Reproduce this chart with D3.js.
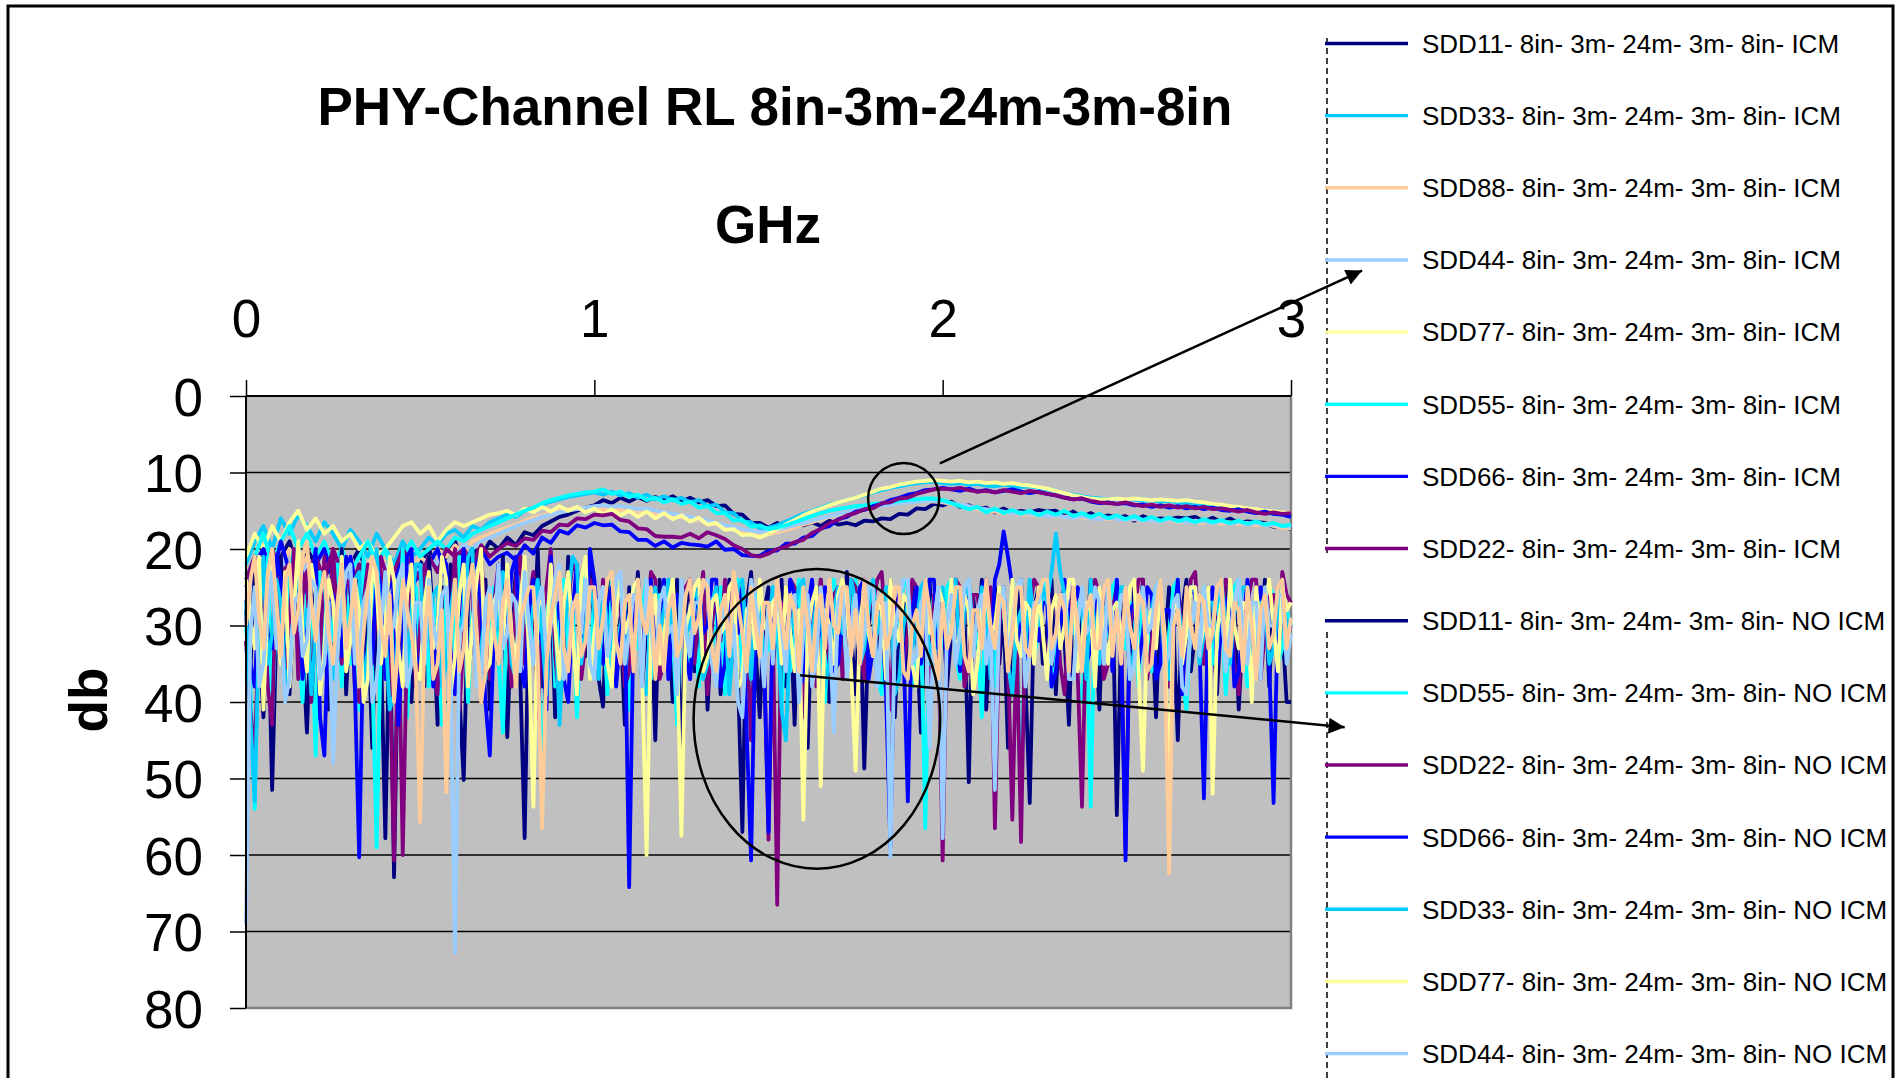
<!DOCTYPE html>
<html>
<head>
<meta charset="utf-8">
<script src="https://cdn.jsdelivr.net/npm/d3@7"></script>
<style>
  html, body { margin: 0; padding: 0; background: #ffffff; }
  svg { display: block; }
  text { font-family: "Liberation Sans", Arial, Helvetica, sans-serif; fill: #000; }
</style>
</head>
<body>
<svg id="chart" width="1899" height="1078"></svg>
<script>
// ---------------- DATA ----------------
const chartTitle = "PHY-Channel RL 8in-3m-24m-3m-8in";
const xAxisTitle = "GHz";
const yAxisTitle = "db";
const xTicks = [0, 1, 2, 3];
const yTicks = [0, 10, 20, 30, 40, 50, 60, 70, 80];
const freqMaxGHz = 3; // every series is sampled evenly from 0 to 3 GHz

const seriesNames = [
  "SDD11- 8in- 3m- 24m- 3m- 8in- ICM",
  "SDD33- 8in- 3m- 24m- 3m- 8in- ICM",
  "SDD88- 8in- 3m- 24m- 3m- 8in- ICM",
  "SDD44- 8in- 3m- 24m- 3m- 8in- ICM",
  "SDD77- 8in- 3m- 24m- 3m- 8in- ICM",
  "SDD55- 8in- 3m- 24m- 3m- 8in- ICM",
  "SDD66- 8in- 3m- 24m- 3m- 8in- ICM",
  "SDD22- 8in- 3m- 24m- 3m- 8in- ICM",
  "SDD11- 8in- 3m- 24m- 3m- 8in- NO ICM",
  "SDD55- 8in- 3m- 24m- 3m- 8in- NO ICM",
  "SDD22- 8in- 3m- 24m- 3m- 8in- NO ICM",
  "SDD66- 8in- 3m- 24m- 3m- 8in- NO ICM",
  "SDD33- 8in- 3m- 24m- 3m- 8in- NO ICM",
  "SDD77- 8in- 3m- 24m- 3m- 8in- NO ICM",
  "SDD44- 8in- 3m- 24m- 3m- 8in- NO ICM",
  "SDD88- 8in- 3m- 24m- 3m- 8in- NO ICM"
];
const seriesColors = [
  "#000080", "#00CCFF", "#FFCC99", "#99CCFF", "#FFFF99", "#00FFFF", "#0000FF", "#800080",
  "#000080", "#00FFFF", "#800080", "#0000FF", "#00CCFF", "#FFFF99", "#99CCFF", "#FFCC99"
];

// ---- ICM series (dB), 121 samples ----
const sdd11Icm = [
  27, 23, 20, 25, 21, 19, 23, 20, 22, 24,
  21, 25, 22, 20, 24, 26, 22, 23, 21, 24,
  22, 20, 23, 21, 19, 22, 20, 21, 19, 20,
  18.5, 19.5, 17.8, 18.2, 17.0, 16.4, 15.8, 15.5, 15.0, 14.6,
  14.3, 13.6, 14.0, 13.3, 13.8, 13.2, 13.7, 13.2, 13.6, 13.1,
  13.8, 13.3, 13.9, 13.6, 14.4, 14.3, 15.4, 15.5, 16.6, 16.6,
  17.2, 16.6, 17.3, 16.7, 16.9, 16.5, 17.0, 16.3, 16.8, 16.6,
  16.9, 16.3, 16.4, 16.0, 16.1, 15.4, 15.5, 14.7, 14.8, 14.1,
  14.3, 13.8, 14.5, 14.3, 14.7, 14.6, 15.2, 14.7, 15.3, 15.0,
  15.2, 14.9, 15.1, 15.0, 15.7, 15.1, 15.8, 15.3, 15.9, 15.6,
  15.9, 15.7, 16.3, 15.7, 16.2, 16.0, 16.1, 15.9, 16.0, 15.8,
  16.4, 15.9, 16.5, 16.0, 16.6, 16.4, 16.5, 16.6, 17.1, 17.0,
  17.4
];
const sdd33Icm = [
  22, 19, 17, 20, 16, 18, 15.5, 17, 19, 16.5,
  18, 20, 17.5, 19, 21, 18, 20, 22, 19, 21,
  20, 18.5, 19.5, 18, 17.5, 18.5, 17, 17.5, 16.5, 16,
  15.5, 15.8, 15.0, 14.6, 14.2, 13.8, 13.5, 13.2, 13.0, 12.8,
  12.6, 12.9, 12.5, 13.0, 12.7, 13.3, 12.9, 13.5, 13.1, 13.6,
  13.3, 13.9, 13.6, 14.4, 14.2, 15.2, 15.3, 16.4, 16.5, 17.3,
  17.2, 16.9, 16.4, 15.9, 15.4, 15.0, 14.6, 14.2, 13.9, 13.6,
  13.3, 13.0, 12.6, 12.3, 12.0, 11.8, 11.6, 11.4, 11.3, 11.2,
  11.4, 11.5, 11.4, 11.6, 11.5, 11.7, 11.8, 11.6, 11.8, 11.9,
  11.8, 12.0, 12.2, 12.4, 12.7, 12.9, 13.1, 13.3, 13.4, 13.5,
  13.4, 13.6, 13.5, 13.7, 13.6, 13.8, 13.7, 13.9, 14.0, 14.1,
  14.2, 14.4, 14.5, 14.7, 14.8, 15.0, 15.1, 15.3, 15.4, 15.5,
  15.6
];
const sdd88Icm = [
  26, 23, 21, 24, 22, 20, 23, 21, 24, 22,
  20, 23, 21, 24, 22, 20, 22, 24, 21, 23,
  21, 22, 20, 21, 19.5, 20.5, 19, 18.5, 18, 17.6,
  17.2, 16.8, 16.3, 15.9, 15.6, 15.3, 15.0, 14.8, 14.7, 14.6,
  14.5, 14.9, 14.4, 15.0, 14.6, 15.1, 15.0, 15.5, 15.4, 15.9,
  15.8, 16.3, 16.2, 16.7, 16.7, 17.3, 17.3, 17.8, 17.8, 18.2,
  18.1, 17.8, 17.5, 17.2, 16.8, 16.5, 16.1, 15.8, 15.5, 15.2,
  15.0, 14.7, 14.5, 14.3, 14.1, 13.9, 13.8, 13.7, 13.7, 13.8,
  13.9, 14.1, 14.3, 14.6, 14.8, 15.0, 15.1, 15.3, 15.2, 15.4,
  15.5, 15.6, 15.4, 15.7, 15.8, 15.6, 15.9, 16.0, 15.8, 16.1,
  16.0, 16.2, 16.1, 16.3, 16.1, 16.4, 16.2, 16.5, 16.3, 16.4,
  16.6, 16.4, 16.7, 16.5, 16.8, 16.6, 16.9, 16.7, 17.0, 17.2,
  17.3
];
const sdd44Icm = [
  23, 26, 22, 25, 21, 24, 27, 22, 25, 23,
  26, 22, 24, 27, 23, 25, 22, 26, 24, 22,
  23, 21, 22, 20, 21, 19.5, 20, 19, 18.5, 18,
  17.5, 17.0, 16.6, 16.2, 15.8, 15.5, 15.2, 15.0, 14.8, 14.6,
  14.4, 14.3, 14.5, 14.4, 14.6, 14.8, 14.7, 15.0, 15.2, 15.4,
  15.6, 15.8, 16.1, 16.3, 16.6, 16.9, 17.1, 17.4, 17.6, 17.8,
  17.7, 17.5, 17.2, 16.9, 16.6, 16.3, 16.0, 15.7, 15.4, 15.2,
  14.9, 14.7, 14.5, 14.3, 14.2, 14.0, 13.9, 13.8, 13.7, 13.7,
  13.8, 14.0, 14.2, 14.4, 14.6, 14.8, 14.9, 15.1, 15.3, 15.2,
  15.4, 15.5, 15.7, 15.6, 15.8, 15.9, 15.7, 16.0, 16.1, 15.9,
  16.1, 16.2, 16.0, 16.3, 16.2, 16.4, 16.1, 16.3, 16.5, 16.3,
  16.4, 16.6, 16.4, 16.7, 16.5, 16.8, 16.6, 16.9, 16.8, 17.0,
  17.1
];
const sdd77Icm = [
  21, 18, 20, 17, 19, 16.5, 15, 17.5, 16, 18,
  17, 19, 18, 20, 19, 21, 20, 18.5, 17, 16.5,
  18, 17, 19, 17.5, 16.5, 17, 16.5, 16, 15.5, 15.3,
  15.0, 15.6, 14.7, 15.2, 14.5, 15.1, 14.4, 15.0, 14.5, 15.2,
  14.7, 15.5, 14.8, 15.6, 15.0, 15.8, 15.1, 16.0, 15.3, 16.1,
  15.6, 16.4, 15.9, 16.8, 16.6, 17.5, 17.4, 18.2, 18.1, 18.5,
  18.0, 17.4, 16.8, 16.2, 15.6, 15.1, 14.7, 14.3, 13.9, 13.6,
  13.3, 12.9, 12.5, 12.1, 11.9, 11.6, 11.4, 11.2, 11.1, 11.0,
  11.1, 11.2, 11.1, 11.3, 11.2, 11.4, 11.3, 11.5, 11.4, 11.6,
  11.7, 11.9, 12.1, 12.4, 12.7, 13.0, 13.2, 13.4, 13.5, 13.5,
  13.4, 13.5, 13.4, 13.5, 13.6, 13.5, 13.6, 13.7, 13.6, 13.8,
  13.9, 14.1, 14.2, 14.4, 14.5, 14.7, 14.8, 15.0, 15.1, 15.2,
  15.3
];
const sdd55Icm = [
  24, 21, 18, 22, 19, 17, 20, 18, 21, 19,
  22, 20, 23, 21, 19, 22, 20, 24, 21, 19,
  21, 20, 19, 20, 18.5, 19, 18, 17.5, 17, 16.5,
  16.0, 15.5, 15.0, 14.6, 14.0, 13.6, 13.3, 13.0, 12.8, 12.6,
  12.5, 12.2, 12.8, 12.5, 13.2, 12.9, 13.6, 13.3, 13.9, 13.5,
  14.1, 13.8, 14.6, 14.4, 15.3, 15.3, 16.3, 16.2, 17.1, 16.9,
  17.4, 17.2, 16.9, 16.5, 16.1, 15.7, 15.3, 15.0, 14.8, 14.6,
  14.4, 14.3, 14.1, 14.0, 13.9, 13.7, 13.6, 13.5, 13.4, 13.4,
  13.6, 14.0, 14.4, 14.8, 14.5, 15.2, 14.7, 15.3, 14.9, 15.4,
  15.0, 15.6, 15.1, 15.5, 15.0, 15.7, 15.3, 15.8, 15.4, 16.0,
  15.6, 16.1, 15.7, 16.2, 15.8, 16.3, 15.9, 16.4, 16.0, 16.5,
  16.1, 16.5, 16.2, 16.6, 16.3, 16.7, 16.4, 16.8, 16.6, 17.0,
  16.8
];
const sdd66Icm = [
  25, 22, 20, 24, 19, 23, 21, 26, 22, 20,
  24, 25, 21, 27, 23, 22, 26, 24, 21, 25,
  23, 22, 20, 24, 22, 21, 23, 20, 22, 21,
  20.5, 21.5, 19.5, 20.6, 18.5, 19.2, 17.6, 18.0, 16.9, 17.2,
  16.6, 16.9, 16.8, 17.7, 17.8, 18.8, 18.8, 19.6, 19.0, 19.8,
  19.2, 19.4, 19.5, 19.7, 19.0, 20.1, 20.0, 20.8, 20.9, 20.9,
  20.2, 20.2, 19.3, 19.3, 18.5, 18.3, 17.3, 17.0, 16.1, 15.8,
  15.1, 14.9, 14.4, 14.1, 13.6, 13.3, 12.9, 12.7, 12.3, 12.2,
  12.0, 12.2, 12.4, 12.1, 12.5, 12.3, 12.6, 12.4, 12.2, 12.5,
  12.7, 12.5, 12.8, 13.0, 13.3, 13.5, 13.4, 13.8, 14.0, 13.9,
  14.1, 14.0, 14.3, 14.2, 14.5, 14.3, 14.6, 14.4, 14.7, 14.5,
  14.8, 14.6, 14.9, 15.0, 14.8, 15.1, 15.3, 15.1, 15.4, 15.5,
  15.8
];
const sdd22Icm = [
  24, 21, 26, 20, 23, 22, 25, 23, 21, 24,
  20, 23, 26, 22, 24, 21, 25, 23, 20, 22,
  24, 21, 23, 20, 21, 20, 22, 19.5, 21, 20,
  19.2, 19.6, 18.6, 18.8, 17.6, 17.8, 16.8, 16.9, 16.0, 16.1,
  15.5, 15.6, 15.4, 16.2, 16.4, 17.3, 17.4, 18.3, 18.4, 18.4,
  18.5, 18.0, 18.6, 17.8, 18.2, 18.7, 19.5, 20.0, 20.8, 21.0,
  20.6, 20.0, 19.7, 19.1, 18.8, 17.9, 17.4, 16.6, 16.2, 15.6,
  15.3, 14.8, 14.7, 14.0, 13.9, 13.4, 13.3, 12.8, 12.5, 12.2,
  12.1, 12.2, 12.0, 12.3, 12.5, 12.4, 12.6, 12.3, 12.5, 12.7,
  12.4, 12.6, 12.8, 13.0, 13.3, 13.5, 13.4, 13.7, 13.9, 14.0,
  14.1, 13.9, 14.2, 14.4, 14.2, 14.5, 14.3, 14.6, 14.4, 14.7,
  14.5, 14.8, 14.7, 14.9, 15.1, 14.9, 15.2, 15.4, 15.2, 15.4,
  15.3
];

// ---- NO ICM series (dB), 241 samples ----
const sdd11NoIcm = [
  28, 36, 23, 31, 42, 26, 51.5, 30, 21, 35, 39, 27, 24, 33, 44, 28, 22, 37, 30, 41,
  25, 34, 20, 39, 27, 31, 23, 36, 29, 46, 26, 33, 57.8, 28, 62.9, 30, 22, 35, 40, 26,
  31, 38, 21, 29, 43, 25, 34, 22, 32, 39, 50.2, 27, 20, 36, 30, 24, 41, 28, 35, 21,
  44.6, 29, 23, 37, 57.8, 26, 33, 20, 38, 30, 24, 42, 28, 36, 21, 31, 39, 25, 34, 22,
  30, 37, 40.6, 26, 24, 35, 29, 43, 25, 32, 23, 38, 30, 27, 45, 24, 33, 28, 40, 24,
  49.8, 28, 24, 36, 31, 25, 41, 29, 26, 39, 34, 24, 30, 37, 57, 27, 23, 33, 42, 28,
  25, 35, 30, 24, 38, 28, 43, 25, 32, 46, 27, 36, 24, 30, 40, 28, 25, 34, 23, 31,
  39, 26, 48.7, 30, 25, 37, 28, 33, 24, 42, 30, 26, 36, 25, 31, 44, 28, 24, 35, 29,
  27, 38, 31, 24, 36, 28, 50.5, 26, 33, 24, 41, 30, 25, 35, 28, 46, 26, 32, 24, 37,
  53.2, 28, 25, 35, 30, 24, 39, 27, 32, 43, 25, 36, 28, 33, 24, 30, 41, 26, 35, 25,
  54.8, 30, 26, 37, 25, 32, 24, 35, 28, 42, 26, 33, 25, 30, 45, 28, 24, 36, 31, 26,
  35, 25, 30, 39, 28, 24, 33, 27, 41, 30, 25, 37, 28, 32, 24, 38, 26, 35, 30, 40,
  40
];
const sdd55NoIcm = [
  30, 38, 54, 25, 34, 21, 42, 27, 31, 37, 24, 20, 33, 40, 26, 30, 47, 23, 35, 27,
  32, 22, 38, 25, 35, 29, 41, 21, 28, 36, 59, 31, 24, 37, 27, 33, 20, 42, 30, 25,
  34, 22, 38, 27, 31, 43, 24, 35, 29, 21, 26, 40, 28, 33, 23, 37, 30, 25, 34, 44,
  27, 32, 37, 22, 30, 25, 35, 28, 54.5, 31, 20, 38, 29, 24, 33, 27, 42, 30, 23, 36,
  26, 32, 29, 39, 24, 35, 30, 27, 41, 25, 33, 28, 24, 37, 30, 26, 36, 29, 31, 43,
  25, 30, 35, 27, 38, 28, 24, 33, 30, 25, 39, 27, 32, 24, 36, 29, 44, 26, 28, 34,
  33, 25, 30, 41, 27, 36, 31, 24, 37, 28, 25, 34, 29, 40, 28, 24, 33, 27, 36, 30,
  24, 32, 29, 26, 27, 37, 39, 28, 25, 33, 31, 24, 25, 38, 34, 28, 56.5, 30, 26, 36,
  30, 25, 24, 34, 37, 28, 27, 32, 31, 42, 25, 30, 38, 27, 28, 35, 24, 31, 54.4, 28,
  27, 34, 31, 24, 25, 38, 35, 28, 28, 32, 26, 37, 40, 29, 53.7, 27, 26, 33, 30, 25,
  24, 32, 33, 27, 28, 38, 25, 30, 36, 28, 27, 35, 31, 25, 24, 37, 41, 29, 28, 33,
  25, 30, 35, 27, 26, 39, 30, 25, 24, 32, 38, 28, 28, 33, 31, 25, 26, 35, 33, 28,
  30
];
const sdd22NoIcm = [
  32, 41, 47, 30, 24, 38, 43, 22, 31, 36, 29, 20, 37, 26, 23, 40, 29, 34, 21, 31,
  20, 30, 35, 24, 25, 38, 40, 27, 22, 33, 29, 21, 23, 35, 60.7, 27, 60, 31, 25, 38,
  30, 22, 24, 36, 39, 26, 25, 31, 20, 41, 32, 24, 26, 36, 21, 29, 37, 27, 22, 31,
  29, 38, 24, 21, 35, 27, 23, 42, 30, 25, 20, 34, 40, 26, 27, 22, 23, 37, 32, 24,
  26, 35, 24, 30, 32, 25, 27, 38, 36, 29, 24, 33, 30, 23, 24, 37, 35, 27, 25, 31,
  31, 25, 24, 35, 28, 23, 39, 30, 25, 32, 24, 37, 33, 25, 27, 31, 45, 29, 26, 34,
  58, 30, 66.5, 27, 30, 24, 25, 35, 42, 28, 27, 38, 24, 30, 35, 26, 25, 37, 31, 24,
  25, 33, 37, 28, 27, 24, 23, 31, 41, 28, 26, 35, 31, 24, 25, 30, 29, 38, 26, 31,
  60.7, 30, 27, 24, 25, 38, 35, 26, 26, 31, 32, 25, 56.5, 30, 25, 35, 55.4, 31, 58.3, 28,
  28, 24, 25, 32, 34, 28, 26, 35, 39, 30, 25, 36, 53.7, 28, 30, 24, 26, 37, 35, 28,
  25, 31, 59.3, 30, 28, 24, 24, 37, 32, 26, 26, 35, 38, 28, 25, 31, 30, 24, 23, 33,
  35, 28, 26, 31, 30, 24, 25, 35, 39, 28, 27, 24, 24, 37, 31, 26, 26, 35, 23, 26,
  27
];
const sdd66NoIcm = [
  29, 35, 38, 26, 22, 31, 33, 21, 24, 39, 35, 28, 22, 37, 30, 25, 20, 42, 47, 28,
  26, 31, 34, 21, 23, 38, 60.3, 30, 27, 35, 22, 25, 37, 31, 24, 43, 32, 21, 20, 34,
  35, 28, 24, 38, 30, 21, 22, 33, 39, 28, 20, 37, 31, 24, 27, 40, 47, 30, 22, 31,
  30, 23, 21, 35, 38, 28, 24, 31, 32, 41, 21, 30, 27, 37, 40, 28, 22, 33, 30, 20,
  24, 31, 35, 27, 25, 38, 31, 28, 64.2, 30, 25, 35, 28, 24, 33, 30, 24, 37, 30, 26,
  26, 34, 37, 28, 25, 31, 30, 24, 24, 38, 35, 27, 28, 31, 25, 44, 60.7, 30, 27, 35,
  57, 28, 25, 35, 31, 24, 26, 38, 37, 28, 24, 33, 30, 25, 26, 36, 35, 28, 25, 31,
  30, 25, 24, 37, 33, 27, 28, 39, 59, 30, 26, 33, 53, 28, 25, 35, 31, 24, 24, 33,
  28, 35, 25, 30, 36, 27, 26, 31, 30, 25, 24, 34, 24, 22, 17.7, 21, 25, 33, 28, 37,
  25, 30, 32, 27, 27, 38, 36, 30, 24, 28, 30, 25, 27, 35, 33, 28, 25, 32, 28, 36,
  24, 33, 60.7, 28, 27, 35, 31, 25, 26, 37, 35, 28, 28, 31, 24, 39, 30, 25, 26, 33,
  52.6, 28, 25, 35, 31, 27, 26, 38, 36, 30, 24, 31, 30, 25, 28, 35, 53.2, 28, 25, 31,
  30
];
const sdd33NoIcm = [
  27, 42, 53, 30, 21, 35, 31, 24, 27, 38, 35, 28, 22, 31, 28, 39, 31, 25, 24, 33,
  37, 28, 21, 35, 28, 24, 23, 38, 33, 26, 20, 31, 30, 41, 39, 30, 23, 35, 28, 22,
  22, 33, 31, 26, 25, 38, 35, 28, 24, 31, 28, 21, 20, 37, 33, 28, 26, 31, 30, 23,
  25, 35, 37, 28, 22, 31, 28, 24, 31, 39, 23, 28, 43, 31, 26, 21, 22, 35, 30, 25,
  28, 37, 25, 30, 33, 26, 24, 35, 30, 25, 27, 38, 39, 28, 25, 31, 28, 24, 31, 37,
  24, 31, 30, 25, 27, 37, 35, 27, 25, 31, 28, 39, 31, 25, 24, 33, 37, 27, 26, 35,
  30, 25, 26, 41, 45, 31, 28, 25, 24, 35, 31, 27, 26, 38, 35, 28, 25, 31, 30, 24,
  27, 35, 33, 28, 24, 31, 28, 25, 25, 39, 37, 30, 27, 33, 30, 25, 24, 35, 31, 27,
  25, 33, 28, 24, 35, 27, 24, 31, 30, 25, 27, 37, 31, 28, 25, 35, 39, 30, 28, 33,
  24, 30, 30, 25, 27, 23, 18, 23, 26, 31, 31, 27, 28, 37, 24, 31, 35, 28, 27, 33,
  30, 25, 25, 37, 33, 27, 27, 31, 28, 25, 24, 35, 37, 28, 27, 31, 30, 25, 25, 35,
  31, 27, 27, 33, 24, 30, 35, 28, 28, 25, 25, 37, 30, 27, 27, 35, 33, 28, 24, 31,
  29
];
const sdd77NoIcm = [
  24, 29, 33, 21, 41, 27, 20, 30, 35, 23, 38, 28, 19, 31, 36, 22, 26, 39, 33, 24,
  27, 34, 21, 36, 32, 24, 28, 40, 37, 22, 25, 35, 30, 21, 24, 33, 38, 26, 22, 36,
  37, 27, 23, 33, 30, 21, 24, 39, 34, 26, 22, 38, 30, 24, 20, 36, 35, 27, 25, 33,
  22, 31, 35, 27, 21, 34, 53.7, 28, 25, 33, 22, 30, 37, 27, 23, 31, 39, 24, 21, 37,
  31, 27, 25, 35, 38, 28, 24, 31, 29, 25, 24, 37, 60, 30, 26, 35, 31, 27, 24, 33,
  57.5, 30, 28, 25, 24, 36, 34, 27, 26, 31, 30, 25, 24, 38, 37, 28, 27, 33, 24, 30,
  31, 27, 26, 35, 25, 31, 36, 28, 55.4, 31, 27, 25, 51, 28, 30, 35, 26, 24, 27, 36,
  49, 30, 25, 31, 34, 27, 28, 37, 24, 30, 32, 26, 27, 35, 38, 28, 25, 31, 30, 25,
  27, 32, 24, 34, 31, 26, 28, 39, 35, 28, 25, 31, 30, 25, 27, 35, 24, 32, 34, 27,
  28, 35, 25, 31, 37, 28, 26, 33, 30, 24, 24, 36, 32, 27, 28, 38, 25, 30, 35, 28,
  27, 31, 30, 25, 24, 36, 49, 30, 28, 33, 25, 31, 52.4, 28, 27, 35, 31, 25, 25, 33,
  30, 25, 52, 31, 27, 35, 24, 30, 33, 27, 28, 40, 25, 31, 27, 24, 30, 36, 25, 28,
  27
];
const sdd44NoIcm = [
  69, 31, 25, 38, 35, 27, 23, 33, 30, 40, 37, 27, 26, 34, 32, 24, 25, 37, 35, 27,
  48, 33, 27, 23, 22, 35, 34, 27, 25, 40, 37, 30, 23, 31, 30, 24, 22, 38, 35, 27,
  27, 35, 24, 30, 33, 26, 25, 37, 72.8, 31, 30, 24, 23, 38, 37, 27, 25, 31, 22, 33,
  31, 26, 27, 36, 23, 30, 35, 27, 25, 34, 30, 24, 22, 37, 34, 27, 27, 31, 24, 35,
  37, 27, 25, 34, 30, 24, 23, 35, 31, 26, 27, 38, 24, 30, 36, 27, 25, 31, 30, 39,
  24, 31, 34, 27, 27, 25, 24, 35, 38, 30, 26, 34, 30, 40, 42, 31, 24, 27, 31, 38,
  27, 35, 24, 30, 36, 27, 26, 40, 31, 26, 38, 34, 25, 31, 30, 44, 27, 25, 37, 30,
  26, 35, 31, 25, 25, 38, 30, 27, 60.3, 31, 27, 24, 24, 35, 34, 27, 26, 46, 30, 25,
  57.8, 30, 26, 35, 31, 25, 24, 34, 28, 26, 35, 30, 51.5, 28, 25, 35, 30, 25, 24, 38,
  33, 27, 27, 24, 24, 35, 31, 26, 26, 37, 37, 30, 25, 31, 30, 25, 27, 35, 24, 30,
  31, 26, 26, 37, 35, 28, 25, 31, 30, 25, 24, 35, 34, 27, 26, 38, 39, 30, 27, 34,
  25, 30, 30, 25, 26, 36, 31, 27, 24, 31, 35, 27, 27, 37, 25, 30, 30, 26, 26, 35,
  31
];
const sdd88NoIcm = [
  30, 24, 21, 29, 33, 23, 20, 27, 34, 24, 22, 31, 28, 21, 19, 27, 32, 26, 23, 31,
  35, 27, 22, 33, 29, 24, 38, 31, 25, 21, 23, 30, 34, 26, 40, 32, 24, 28, 31, 36,
  55.7, 31, 25, 37, 35, 28, 51.8, 32, 24, 36, 33, 26, 22, 31, 40, 36, 26, 31, 35, 27,
  24, 32, 38, 29, 27, 25, 25, 34, 56.5, 35, 29, 26, 23, 33, 36, 28, 26, 34, 32, 25,
  25, 33, 29, 24, 23, 32, 35, 27, 26, 36, 24, 29, 31, 25, 37, 30, 36, 28, 26, 34,
  32, 26, 24, 31, 29, 24, 25, 33, 36, 28, 26, 34, 23, 27, 31, 36, 25, 30, 34, 27,
  27, 33, 24, 29, 33, 26, 28, 36, 25, 30, 36, 28, 26, 33, 24, 30, 31, 25, 25, 34,
  28, 35, 24, 30, 34, 27, 26, 33, 31, 25, 25, 36, 37, 30, 28, 34, 24, 28, 33, 37,
  27, 33, 31, 25, 25, 34, 36, 28, 28, 33, 24, 30, 33, 26, 27, 36, 31, 25, 25, 33,
  34, 28, 26, 24, 24, 33, 31, 26, 28, 36, 25, 30, 36, 28, 26, 33, 33, 25, 24, 34,
  28, 35, 25, 30, 33, 26, 27, 36, 35, 28, 24, 33, 62.4, 30, 28, 34, 25, 30, 33, 26,
  27, 33, 31, 25, 24, 33, 34, 27, 28, 36, 25, 30, 37, 28, 26, 33, 31, 25, 24, 33,
  29
];

const seriesValues = [
  sdd11Icm, sdd33Icm, sdd88Icm, sdd44Icm, sdd77Icm, sdd55Icm, sdd66Icm, sdd22Icm,
  sdd11NoIcm, sdd55NoIcm, sdd22NoIcm, sdd66NoIcm, sdd33NoIcm, sdd77NoIcm, sdd44NoIcm, sdd88NoIcm
];

// annotation shapes (data units: GHz, dB)
const annotCircles = [
  { f: 1.888, db: 13.4, rf: 0.102, rdb: 4.65 },
  { f: 1.639, db: 42.2, rf: 0.354, rdb: 19.6 }
];
const annotArrows = [
  { from: [1.992, 8.8], to: [3.204, -16.4] },
  { from: [1.591, 36.5], to: [3.154, 43.3] }
];

// ---------------- LAYOUT ----------------
const FONT = '"Liberation Sans", Arial, Helvetica, sans-serif';
const W = 1899, H = 1078;
const plot = { left: 246, right: 1291, top: 396, bottom: 1008 };

const svg = d3.select("#chart");

// outer chart frame (bottom edge lies below the picture, as in the reference)
svg.append("rect")
  .attr("x", 8).attr("y", 6)
  .attr("width", 1885).attr("height", 1100)
  .attr("fill", "#ffffff")
  .attr("stroke", "#000").attr("stroke-width", 3);

const x = d3.scaleLinear().domain([0, freqMaxGHz]).range([plot.left, plot.right]);
const y = d3.scaleLinear().domain([0, 80]).range([plot.top, plot.bottom]);

// plot area
svg.append("rect")
  .attr("x", plot.left).attr("y", plot.top)
  .attr("width", plot.right - plot.left).attr("height", plot.bottom - plot.top)
  .attr("fill", "#C0C0C0");

// gridlines
svg.append("g").selectAll("line")
  .data(yTicks.filter(t => t > 0 && t < 80))
  .join("line")
  .attr("x1", plot.left).attr("x2", plot.right)
  .attr("y1", d => y(d)).attr("y2", d => y(d))
  .attr("stroke", "#000").attr("stroke-width", 1.5);

// plot border (right & bottom gray)
svg.append("path")
  .attr("d", `M${plot.right},${plot.top}V${plot.bottom}H${plot.left}`)
  .attr("fill", "none").attr("stroke", "#808080").attr("stroke-width", 2.5);

// series
const lineGen = d3.line()
  .x((d, i, arr) => x(i * freqMaxGHz / (arr.length - 1)))
  .y(d => y(d));

const seriesG = svg.append("g");
seriesValues.forEach((vals, k) => {
  seriesG.append("path")
    .attr("d", lineGen(vals))
    .attr("fill", "none")
    .attr("stroke", seriesColors[k])
    .attr("stroke-width", 3.8)
    .attr("stroke-linejoin", "round");
});

// axes
const xAxis = d3.axisTop(x).tickValues(xTicks).tickSize(16).tickPadding(43).tickFormat(d3.format("d"));
const gx = svg.append("g").attr("transform", `translate(0,${plot.top})`).call(xAxis);
gx.select(".domain").attr("stroke", "#000").attr("stroke-width", 2).attr("d", `M${plot.left},0H${plot.right}`);
gx.selectAll(".tick line").attr("stroke", "#000").attr("stroke-width", 1.5);
gx.selectAll(".tick text").attr("font-family", FONT).attr("font-size", 53).attr("fill", "#000");

const yAxis = d3.axisLeft(y).tickValues(yTicks).tickSize(16).tickPadding(27).tickFormat(d3.format("d"));
const gy = svg.append("g").attr("transform", `translate(${plot.left},0)`).call(yAxis);
gy.select(".domain").attr("stroke", "#000").attr("stroke-width", 2).attr("d", `M0,${plot.top}V${plot.bottom}`);
gy.selectAll(".tick line").attr("stroke", "#000").attr("stroke-width", 1.5);
gy.selectAll(".tick text").attr("font-family", FONT).attr("font-size", 53).attr("fill", "#000").attr("dy", "0.36em");

// titles
svg.append("text")
  .attr("x", 775).attr("y", 125)
  .attr("text-anchor", "middle")
  .attr("font-family", FONT).attr("font-weight", "bold").attr("font-size", 53)
  .text(chartTitle);
svg.append("text")
  .attr("x", 768).attr("y", 243)
  .attr("text-anchor", "middle")
  .attr("font-family", FONT).attr("font-weight", "bold").attr("font-size", 53)
  .text(xAxisTitle);
svg.append("text")
  .attr("transform", "translate(107,700) rotate(-90)")
  .attr("text-anchor", "middle")
  .attr("font-family", FONT).attr("font-weight", "bold").attr("font-size", 53)
  .text(yAxisTitle);

// annotations
svg.append("defs").append("marker")
  .attr("id", "arrowhead")
  .attr("viewBox", "0 0 10 10")
  .attr("refX", 10).attr("refY", 5)
  .attr("markerUnits", "userSpaceOnUse")
  .attr("markerWidth", 20).attr("markerHeight", 16)
  .attr("orient", "auto")
  .append("path").attr("d", "M0,0L10,5L0,10Z").attr("fill", "#000");

const annG = svg.append("g");
annotCircles.forEach(c => {
  annG.append("ellipse")
    .attr("cx", x(c.f)).attr("cy", y(c.db))
    .attr("rx", x(c.rf) - x(0)).attr("ry", y(c.rdb) - y(0))
    .attr("fill", "none").attr("stroke", "#000").attr("stroke-width", 2.5);
});
annotArrows.forEach(a => {
  annG.append("line")
    .attr("x1", x(a.from[0])).attr("y1", y(a.from[1]))
    .attr("x2", x(a.to[0])).attr("y2", y(a.to[1]))
    .attr("stroke", "#000").attr("stroke-width", 2.5)
    .attr("marker-end", "url(#arrowhead)");
});

// legend (entries that fall below the picture edge are not drawn)
const legX = 1327, legY0 = 43.5, legStep = 72.15;
const legG = svg.append("g");
legG.append("line")
  .attr("x1", legX).attr("x2", legX).attr("y1", 38).attr("y2", 553)
  .attr("stroke", "#000").attr("stroke-width", 1.5).attr("stroke-dasharray", "6,4");
legG.append("line")
  .attr("x1", legX).attr("x2", legX).attr("y1", 632).attr("y2", H)
  .attr("stroke", "#000").attr("stroke-width", 1.5).attr("stroke-dasharray", "6,4");
seriesNames.forEach((name, k) => {
  const yy = legY0 + k * legStep;
  if (yy + 14 > H) return;
  legG.append("line")
    .attr("x1", legX - 2).attr("x2", 1408)
    .attr("y1", yy).attr("y2", yy)
    .attr("stroke", seriesColors[k]).attr("stroke-width", 3.4);
  legG.append("text")
    .attr("x", 1422).attr("y", yy).attr("dy", "0.36em")
    .attr("font-family", FONT).attr("font-size", 26)
    .text(name);
});
</script>
</body>
</html>
